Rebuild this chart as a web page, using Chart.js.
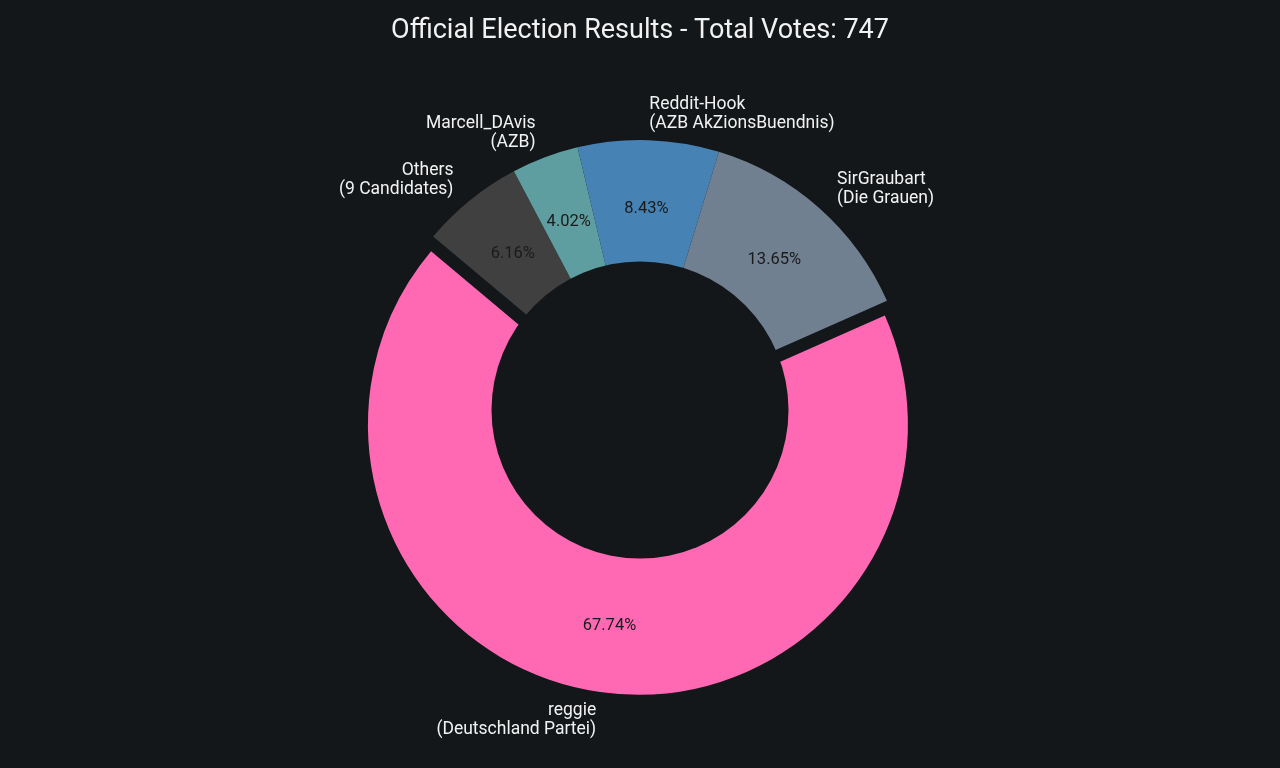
<!DOCTYPE html>
<html>
<head>
<meta charset="utf-8">
<title>Election Results</title>
<script src="https://cdn.jsdelivr.net/npm/chart.js@4.4.1/dist/chart.umd.min.js"></script>
<style>
  html, body { margin: 0; padding: 0; background: #141719; }
  #wrap { width: 1280px; height: 768px; }
</style>
</head>
<body>
<div id="wrap"><canvas id="resultsChart"></canvas></div>
<script>
const candidates = ["reggie", "SirGraubart", "Reddit-Hook", "Marcell_DAvis", "Others"];
const parties = ["(Deutschland Partei)", "(Die Grauen)", "(AZB AkZionsBuendnis)", "(AZB)", "(9 Candidates)"];
const votes = [506, 102, 63, 30, 46];
const sliceColors = ["#ff69b4", "#708090", "#4682b4", "#5f9ea0", "#404040"];

const explodedName = "reggie";
const explodeFrac = 0.055;
const holeFrac = 0.55;
const pctDist = 0.75;
const labelDist = 1.1;
const bg = "#141719";
const fontFam = "Roboto, 'Open Sans', sans-serif";

const totalVotes = votes.reduce((a, b) => a + b, 0);

// chart.js only goes clockwise, so feed the slices backwards
const order = candidates.map((c, i) => i).reverse();

const pieLabels = {
    id: "pieLabels",
    afterUpdate(chart) {
        const arcs = chart.getDatasetMeta(0).data;
        arcs.forEach((arc, i) => {
            if (candidates[order[i]] !== explodedName) return;
            const mid = (arc.startAngle + arc.endAngle) / 2;
            const d = explodeFrac * arc.outerRadius;
            arc.x += Math.cos(mid) * d;
            arc.y += Math.sin(mid) * d;
        });
    },
    afterDatasetsDraw(chart) {
        const ctx = chart.ctx;
        const area = chart.chartArea;
        const cx = (area.left + area.right) / 2;
        const cy = (area.top + area.bottom) / 2;
        const arcs = chart.getDatasetMeta(0).data;
        const R = arcs[0].outerRadius;

        ctx.save();
        // centre circle on the un-exploded centre, like the original
        ctx.fillStyle = bg;
        ctx.beginPath();
        ctx.arc(cx, cy, R * holeFrac, 0, Math.PI * 2);
        ctx.fill();

        arcs.forEach((arc, i) => {
            const k = order[i];
            const mid = (arc.startAngle + arc.endAngle) / 2;
            const c = Math.cos(mid), s = Math.sin(mid);

            ctx.fillStyle = "#1a1a1a";
            ctx.font = "16.5px " + fontFam;
            ctx.textAlign = "center";
            ctx.textBaseline = "middle";
            const pct = (votes[k] / totalVotes * 100).toFixed(2) + "%";
            ctx.fillText(pct, arc.x + c * R * pctDist, arc.y + s * R * pctDist + 1);

            ctx.fillStyle = "#f2f2f2";
            ctx.font = "17.5px " + fontFam;
            ctx.textAlign = c > 0 ? "left" : "right";
            const lines = [candidates[k], parties[k]];
            const lh = 19;
            const lx = arc.x + c * R * labelDist;
            const ly = arc.y + s * R * labelDist - (lines.length - 1) * lh / 2 + 1;
            lines.forEach((t, j) => ctx.fillText(t, lx, ly + j * lh));
        });
        ctx.restore();
    }
};

Chart.defaults.font.family = fontFam;

new Chart(document.getElementById("resultsChart"), {
    type: "pie",
    data: {
        labels: order.map(k => candidates[k]),
        datasets: [{
            data: order.map(k => votes[k]),
            backgroundColor: order.map(k => sliceColors[k]),
            borderWidth: 0,
        }],
    },
    options: {
        responsive: true,
        maintainAspectRatio: false,
        devicePixelRatio: 1,
        animation: false,
        rotation: -50,
        layout: { padding: { top: 0, bottom: 88, left: 0, right: 0 } },
        plugins: {
            legend: { display: false },
            tooltip: { enabled: false },
            title: {
                display: true,
                text: "Official Election Results - Total Votes: " + totalVotes,
                color: "#f2f2f2",
                font: { size: 27, weight: "normal", lineHeight: 1.2 },
                padding: { top: 15.5, bottom: 92.1 },
            },
        },
    },
    plugins: [pieLabels],
});
</script>
</body>
</html>
